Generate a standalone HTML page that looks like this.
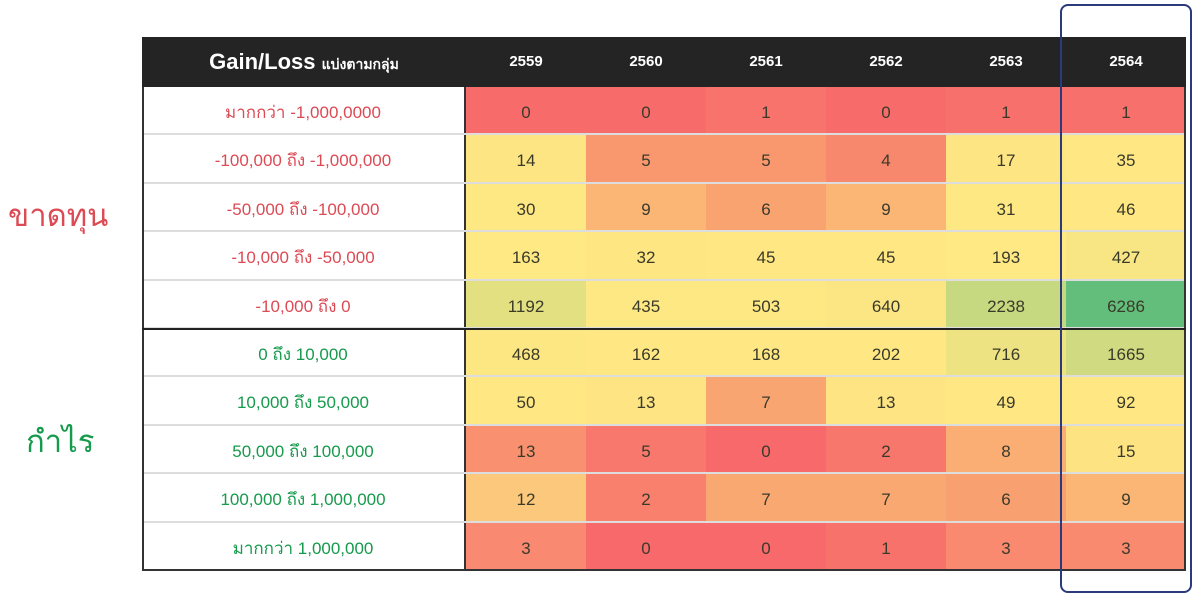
<!DOCTYPE html>
<html><head><meta charset="utf-8"><style>
body{margin:0;width:1200px;height:601px;background:#fff;position:relative;overflow:hidden;font-family:"Liberation Sans","DejaVu Sans",sans-serif}
.a{position:absolute;box-sizing:border-box}
#hdr{left:142px;top:37px;width:1044px;height:50px;background:#242424;color:#fff}
.h{position:absolute;top:0;height:50px;line-height:50px;text-align:center;font-weight:bold;font-size:15px}
.r{position:absolute;left:142px;width:1044px;height:48.4px;border-bottom:2px solid #ddd;box-sizing:border-box}
.l{position:absolute;left:0;width:324px;height:100%;background:#fff;text-align:center;line-height:52px;font-size:17px;border-right:2px solid #333;box-sizing:border-box}
.c{position:absolute;top:0;width:120px;height:100%;text-align:center;line-height:52px;font-size:17px;color:#3a3a2a}
.red{color:#dc4a54}.grn{color:#169a4c}
</style></head><body>
<div class="a" id="hdr">
<div class="h" style="left:0;width:324px;font-size:22px">Gain/Loss <span style="font-size:14px">แบ่งตามกลุ่ม</span></div>
<div class="h" style="left:324px;width:120px">2559</div>
<div class="h" style="left:444px;width:120px">2560</div>
<div class="h" style="left:564px;width:120px">2561</div>
<div class="h" style="left:684px;width:120px">2562</div>
<div class="h" style="left:804px;width:120px">2563</div>
<div class="h" style="left:924px;width:120px">2564</div>
</div>
<div id="rows"></div>
<div class="a" style="left:142px;top:87px;width:1044px;height:484px;border:2px solid #333;border-top:none"></div>
<div class="a" style="left:142px;top:328px;width:1044px;height:2px;background:#222"></div>
<div class="a" style="left:1060px;top:4px;width:132px;height:589px;border:2.5px solid #2a3a7a;border-radius:8px"></div>
<div class="a red" style="left:8px;top:190px;font-size:31px">ขาดทุน</div>
<div class="a grn" style="left:26px;top:416px;font-size:31px">กำไร</div>
<script>
var L=[["มากกว่า -1,000,0000","red"],["-100,000 ถึง -1,000,000","red"],["-50,000 ถึง -100,000","red"],["-10,000 ถึง -50,000","red"],["-10,000 ถึง 0","red"],["0 ถึง 10,000","grn"],["10,000 ถึง 50,000","grn"],["50,000 ถึง 100,000","grn"],["100,000 ถึง 1,000,000","grn"],["มากกว่า 1,000,000","grn"]];
var V=[[0,0,1,0,1,1],[14,5,5,4,17,35],[30,9,6,9,31,46],[163,32,45,45,193,427],[1192,435,503,640,2238,6286],[468,162,168,202,716,1665],[50,13,7,13,49,92],[13,5,0,2,8,15],[12,2,7,7,6,9],[3,0,0,1,3,3]];
var C=[["#f86b6b","#f86b6b","#f8736c","#f86b6b","#f8706c","#f8706c"],
["#fde583","#f9976f","#f9976f","#f8886d","#fee583","#ffe884"],
["#fee883","#fbb676","#f9a370","#fbb676","#fee883","#ffe884"],
["#ffe984","#fee683","#ffe884","#ffe884","#ffe984","#f8e583"],
["#e3e082","#fee883","#fde883","#fbe683","#c6d880","#63be7b"],
["#fde783","#ffe884","#ffe884","#ffe884","#eee382","#d0db81"],
["#ffe884","#fee483","#f9a571","#fee483","#ffe884","#ffe884"],
["#f9906f","#f8786d","#f8696b","#f8776d","#fbae74","#fee383"],
["#fcc87b","#f8806d","#faa872","#faa872","#f9a070","#fbb575"],
["#f98970","#f8696b","#f8696b","#f8726c","#f9896f","#f9896f"]];
var h="";
for(var i=0;i<10;i++){h+='<div class="r" style="top:'+(87+i*48.4)+'px"><div class="l '+L[i][1]+'">'+L[i][0]+'</div>';
for(var j=0;j<6;j++)h+='<div class="c" style="left:'+(324+j*120)+'px;background:'+C[i][j]+'">'+V[i][j]+'</div>';h+='</div>';}
document.getElementById("rows").innerHTML=h;
</script>
</body></html>
